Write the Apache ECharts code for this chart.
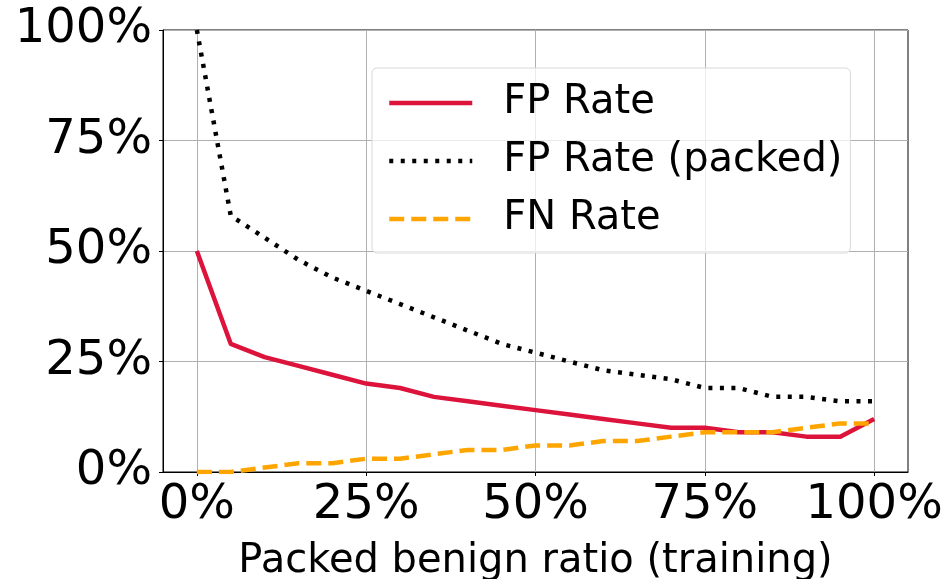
<!DOCTYPE html>
<html>
<head>
<meta charset="utf-8">
<script src="https://cdn.jsdelivr.net/npm/echarts@6/dist/echarts.min.js"></script>
<style>
html,body{margin:0;padding:0;background:#fff;}
#chart{width:946px;height:579px;}
</style>
</head>
<body>
<div id="chart"></div>
<script>
const ratios = [0,5,10,15,20,25,30,35,40,45,50,55,60,65,70,75,80,85,90,95,100];
const fpRate = [50,29,26,24,22,20,19,17,16,15,14,13,12,11,10,10,9,9,8,8,12];
const fpRatePacked = [100,58,53,48,44,41,38,35,32,29,27,25,23,22,21,19,19,17,17,16,16];
const fnRate = [0,0,1,2,2,3,3,4,5,5,6,6,7,7,8,9,9,9,10,11,11];
const xTicks = [0,25,50,75,100];
const seriesNames = ['FP Rate','FP Rate (packed)','FN Rate'];
const xName = 'Packed benign ratio (training)';

const FONT = 'DejaVu Sans';
const pair = arr => ratios.map((r,i)=>[r, arr[i]]);
const styles = [
  {color:'#DC143C', width:4.5, type:'solid', cap:'butt', join:'round'},
  {color:'#000000', width:4.5, type:[4,7.5], cap:'butt', join:'round'},
  {color:'#FFA500', width:4.5, type:[15,7], cap:'butt', join:'round'}
];

const chart = echarts.init(document.getElementById('chart'), null, {renderer:'canvas'});
chart.setOption({
  animation: false,
  backgroundColor: '#ffffff',
  grid: {left:163, right:38, top:30, bottom:107, outerBoundsMode:'none', containLabel:false,
         show:true, borderColor:'#000', borderWidth:1, backgroundColor:'transparent'},
  legend: {
    data: seriesNames.map((n,i)=>({name:n, lineStyle:Object.assign({}, styles[i]), itemStyle:{opacity:0}})),
    orient: 'vertical',
    left: 372, top: 68,
    itemWidth: 83, itemHeight: 40, itemGap: 18,
    padding: [15, 8, 14, 15],
    itemStyle: {opacity: 0},
    backgroundColor: 'rgba(255,255,255,0.75)',
    borderColor: '#d8d8d8', borderWidth: 1, borderRadius: 5,
    textStyle: {fontFamily: FONT, fontSize: 40, color:'#000', padding:[0,0,0,26]}
  },
  xAxis: {
    type: 'value', min: -5, max: 105,
    name: xName, nameLocation: 'middle', nameGap: 70,
    nameTextStyle: {fontFamily: FONT, fontSize: 40, color:'#000'},
    axisLine: {show:true, onZero:false, lineStyle:{color:'#000', width:1}},
    axisTick: {show:true, inside:false, length:4, customValues: xTicks, lineStyle:{color:'#000'}},
    axisLabel: {customValues: xTicks, formatter: '{value}%', fontFamily: FONT, fontSize: 48, color:'#000', margin: 10},
    splitLine: {show:true, lineStyle:{color:'#b0b0b0', width:1}}
  },
  yAxis: {
    type: 'value', min: 0, max: 100, interval: 25,
    axisLine: {show:true, onZero:false, lineStyle:{color:'#000', width:1}},
    axisTick: {show:true, inside:false, length:4, lineStyle:{color:'#000'}},
    axisLabel: {formatter: '{value}%', fontFamily: FONT, fontSize: 48, color:'#000', margin: 11},
    splitLine: {show:true, lineStyle:{color:'#b0b0b0', width:1}}
  },
  series: seriesNames.map((n,i)=>({
    name: n, type:'line', data: pair([fpRate, fpRatePacked, fnRate][i]), symbol:'none',
    lineStyle: Object.assign({}, styles[i]), itemStyle:{color: styles[i].color}
  }))
});
</script>
</body>
</html>
